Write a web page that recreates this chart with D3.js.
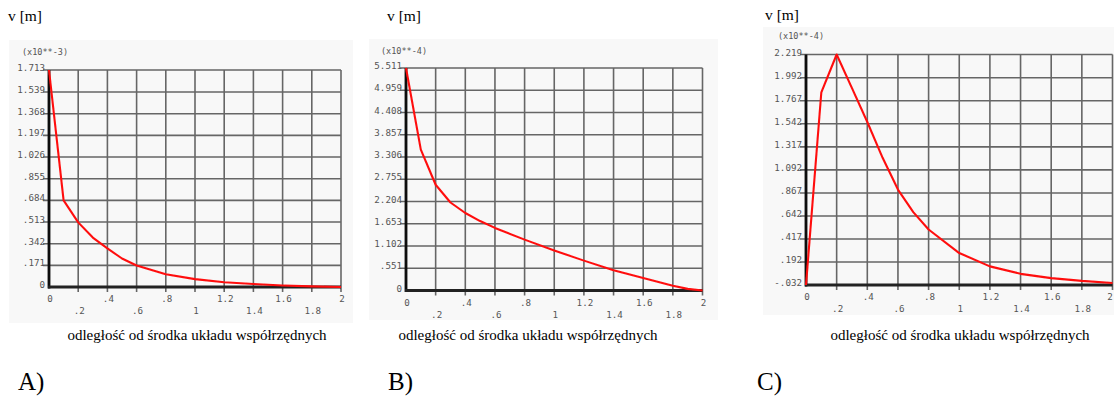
<!DOCTYPE html>
<html><head><meta charset="utf-8">
<script src="https://cdn.jsdelivr.net/npm/d3@7"></script>
<style>
html,body{margin:0;padding:0;background:#fff;}
svg{display:block;}
</style></head>
<body>
<svg id="c" width="1114" height="399"></svg>
<script>
// ---- data ----
const xTicks = [0, 0.2, 0.4, 0.6, 0.8, 1.0, 1.2, 1.4, 1.6, 1.8, 2.0];
const xTickLabels = ["0", ".2", ".4", ".6", ".8", "1", "1.2", "1.4", "1.6", "1.8", "2"];

const xA = [0, 0.1, 0.2, 0.3, 0.4, 0.5, 0.6, 0.8, 1.0, 1.2, 1.4, 1.6, 1.8, 2.0];
const vA = [1.713, 0.684, 0.510, 0.390, 0.305, 0.225, 0.170, 0.100, 0.062, 0.038, 0.024, 0.012, 0.005, 0.0];
const yTicksA = [0, 0.171, 0.342, 0.513, 0.684, 0.855, 1.026, 1.197, 1.368, 1.539, 1.713];
const yLabelsA = ["0", ".171", ".342", ".513", ".684", ".855", "1.026", "1.197", "1.368", "1.539", "1.713"];

const xB = [0, 0.1, 0.2, 0.3, 0.4, 0.5, 0.6, 0.8, 1.0, 1.2, 1.4, 1.6, 1.8, 1.9, 2.0];
const vB = [5.511, 3.49, 2.62, 2.18, 1.92, 1.72, 1.55, 1.26, 0.99, 0.74, 0.50, 0.31, 0.12, 0.04, 0.0];
const yTicksB = [0, 0.551, 1.102, 1.653, 2.204, 2.755, 3.306, 3.857, 4.408, 4.959, 5.511];
const yLabelsB = ["0", ".551", "1.102", "1.653", "2.204", "2.755", "3.306", "3.857", "4.408", "4.959", "5.511"];

const xC = [0, 0.1, 0.2, 0.3, 0.4, 0.5, 0.6, 0.7, 0.8, 1.0, 1.2, 1.4, 1.6, 1.8, 2.0];
const vC = [-0.032, 1.85, 2.219, 1.89, 1.56, 1.21, 0.90, 0.68, 0.51, 0.28, 0.15, 0.077, 0.035, 0.008, -0.012];
const yTicksC = [-0.032, 0.192, 0.417, 0.642, 0.867, 1.092, 1.317, 1.542, 1.767, 1.992, 2.219];
const yLabelsC = ["-.032", ".192", ".417", ".642", ".867", "1.092", "1.317", "1.542", "1.767", "1.992", "2.219"];

const unitLabels = ["(x10**-3)", "(x10**-4)", "(x10**-4)"];
const panelLetters = ["A)", "B)", "C)"];
const yTitle = "v [m]";
const caption = "odległość od środka układu współrzędnych";

// ---- layout ----
const W = 1114;
const panels = [
  {x: xA, v: vA, yt: yTicksA, yl: yLabelsA, unit: unitLabels[0], letter: panelLetters[0],
   bg: [9, 40, 353, 323], plot: [49, 70, 341, 287], unitPos: [22, 55], title: [8, 21], cap: 197, let: 18},
  {x: xB, v: vB, yt: yTicksB, yl: yLabelsB, unit: unitLabels[1], letter: panelLetters[1],
   bg: [369, 39, 718, 320], plot: [406, 68, 702.5, 290.5], unitPos: [381, 54], title: [387, 21], cap: 528, let: 388},
  {x: xC, v: vC, yt: yTicksC, yl: yLabelsC, unit: unitLabels[2], letter: panelLetters[2],
   bg: [763, 27, 1114, 315], plot: [806, 54.5, 1112.5, 285], unitPos: [778, 39], title: [765, 20], cap: 960, let: 757}
];

const svg = d3.select("#c");
const defs = svg.append("defs");
defs.append("filter").attr("id","blur").append("feGaussianBlur").attr("stdDeviation", 0.5);

panels.forEach(p => {
  const g = svg.append("g");
  const [bx0, by0, bx1, by1] = p.bg;
  const [px0, py0, px1, py1] = p.plot;
  g.append("rect").attr("x", bx0).attr("y", by0).attr("width", bx1 - bx0).attr("height", by1 - by0)
    .attr("fill", "#f8f8f8");

  const xs = d3.scaleLinear().domain([0, 2]).range([px0, px1]);
  const ys = d3.scaleLinear().domain([p.yt[0], p.yt[p.yt.length - 1]]).range([py1, py0]);

  const gg = g.append("g").attr("filter", "url(#blur)");
  // vertical grid lines (extend below the axis as ticks)
  gg.selectAll("line.vg").data(xTicks.slice(1)).enter().append("line")
    .attr("x1", d => xs(d)).attr("x2", d => xs(d))
    .attr("y1", py0).attr("y2", py1 + 5)
    .attr("stroke", "#666").attr("stroke-width", 1.6);
  // horizontal grid lines
  gg.selectAll("line.hg").data(p.yt.slice(1)).enter().append("line")
    .attr("x1", px0 - 6).attr("x2", px1)
    .attr("y1", d => ys(d)).attr("y2", d => ys(d))
    .attr("stroke", "#666").attr("stroke-width", 1.6);
  // axes
  gg.append("line").attr("x1", px0).attr("x2", px0).attr("y1", py0).attr("y2", py1 + 1.5)
    .attr("stroke", "#111").attr("stroke-width", 2.8);
  gg.append("line").attr("x1", px0 - 1).attr("x2", px1).attr("y1", py1).attr("y2", py1)
    .attr("stroke", "#222").attr("stroke-width", 2.8);

  // y tick labels
  g.selectAll("text.yl").data(p.yt).enter().append("text")
    .attr("x", px0 - 4).attr("y", d => ys(d) + 1)
    .attr("text-anchor", "end")
    .attr("font-family", "DejaVu Sans Mono, monospace").attr("font-size", 9.2)
    .attr("fill", "#555")
    .text((d, i) => p.yl[i]);

  // x tick labels (two staggered rows)
  g.selectAll("text.xl").data(xTicks).enter().append("text")
    .attr("x", d => Math.min(xs(d) + 1, W - 4))
    .attr("y", (d, i) => py1 + (i % 2 === 0 ? 15 : 27))
    .attr("text-anchor", "middle")
    .attr("font-family", "DejaVu Sans Mono, monospace").attr("font-size", 9.2)
    .attr("fill", "#555")
    .text((d, i) => xTickLabels[i]);

  // unit label
  g.append("text").attr("x", p.unitPos[0]).attr("y", p.unitPos[1])
    .attr("font-family", "DejaVu Sans Mono, monospace").attr("font-size", 8.5)
    .attr("fill", "#555").text(p.unit);

  // curve
  const line = d3.line().x((d, i) => xs(p.x[i])).y(d => ys(d));
  g.append("path").datum(p.v).attr("d", line)
    .attr("fill", "none").attr("stroke", "#ff1010").attr("stroke-width", 2.1)
    .attr("stroke-linejoin", "round").attr("filter", "url(#blur)");

  // titles
  svg.append("text").attr("x", p.title[0]).attr("y", p.title[1])
    .attr("font-family", "Liberation Serif, serif").attr("font-size", 15.5)
    .attr("fill", "#000").text(yTitle);
  svg.append("text").attr("x", p.cap).attr("y", 340)
    .attr("text-anchor", "middle")
    .attr("font-family", "Liberation Serif, serif").attr("font-size", 15)
    .attr("fill", "#000").text(caption);
  svg.append("text").attr("x", p.let).attr("y", 390)
    .attr("font-family", "Liberation Serif, serif").attr("font-size", 25)
    .attr("fill", "#000").text(p.letter);
});
</script>
</body></html>
